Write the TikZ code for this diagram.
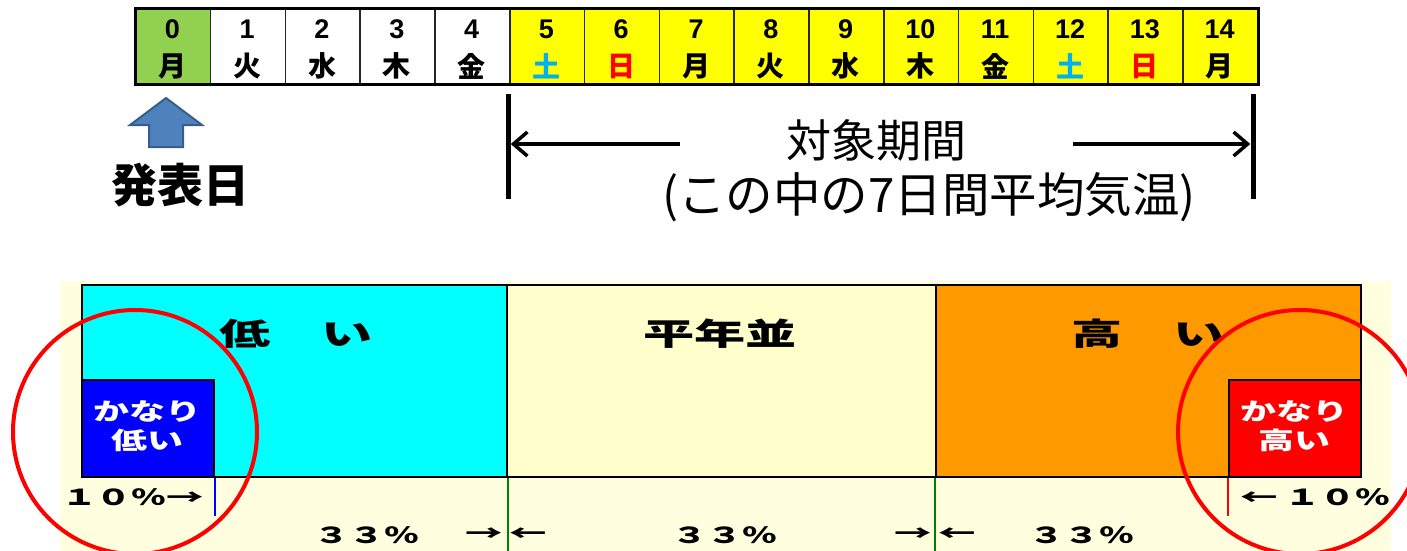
\documentclass[tikz,border=0pt]{standalone}
\usepackage{fontspec}
\setmainfont{Liberation Sans}
\newfontfamily\jp{Noto Sans CJK JP}
\usetikzlibrary{arrows.meta}
\definecolor{calgreen}{HTML}{92D050}
\definecolor{calyellow}{HTML}{FFFF00}
\definecolor{satblue}{HTML}{00B0F0}
\definecolor{sunred}{HTML}{FF0000}
\definecolor{arrowfill}{HTML}{4F81BD}
\definecolor{arrowline}{HTML}{385D8A}
\definecolor{bgyellow}{HTML}{FFFFE0}
\definecolor{midyellow}{HTML}{FFFFCC}
\definecolor{lowcyan}{HTML}{00FFFF}
\definecolor{highorange}{HTML}{FF9900}
\definecolor{vlowblue}{HTML}{0000FF}
\definecolor{vhighred}{HTML}{FF0000}
\definecolor{linegreen}{HTML}{008000}
\definecolor{circred}{HTML}{FF0000}
\begin{document}
\begin{tikzpicture}[x=1pt,y=-1pt,
  cell/.style={draw=black!85, line width=1.5pt, minimum width=74.8pt, minimum height=74pt, inner sep=0pt, anchor=north west},
  numtxt/.style={font=\fontsize{27}{27}\selectfont\bfseries, inner sep=0pt},
  daytxt/.style={font=\jp\fontsize{28}{28}\selectfont\bfseries, inner sep=0pt},
  bar/.style={fill=black, minimum width=5pt, minimum height=105pt, inner sep=0pt},
  spanarrow/.style={line width=3.5pt, -{Straight Barb[length=14pt,width=24pt,line width=3.5pt]}},
  catbox/.style={draw=black, line width=2pt, anchor=north west, inner sep=0pt},
  catlabel/.style={font=\jp\bfseries\fontsize{31}{31}\selectfont, inner sep=0pt},
  extlabel/.style={font=\jp\bfseries\fontsize{24}{29}\selectfont, text=white, inner sep=0pt},
  pct/.style={font=\jp\bfseries\fontsize{22}{22}\selectfont, inner sep=0pt},
  ring/.style={draw=circred, line width=4pt, circle, minimum size=244pt, inner sep=0pt}
]
\useasboundingbox (0,0) rectangle (1407,551);

% ---- calendar ----
\foreach \i/\d/\dc/\f in {0/月/black/calgreen, 1/火/black/white, 2/水/black/white, 3/木/black/white, 4/金/black/white,
  5/土/satblue/calyellow, 6/日/sunred/calyellow, 7/月/black/calyellow, 8/火/black/calyellow, 9/水/black/calyellow,
  10/木/black/calyellow, 11/金/black/calyellow, 12/土/satblue/calyellow, 13/日/sunred/calyellow, 14/月/black/calyellow}{
  \node[cell, fill=\f] (c\i) at ({135+74.8*\i},9) {};
  \node[numtxt] (n\i) at ({172.4+74.8*\i},29) {\i};
  \node[daytxt, text=\dc] (d\i) at ({172.4+74.8*\i},66) {\d};
}
\draw[line width=3pt] (c0.north west) rectangle (c14.south east);

% ---- announcement arrow ----
\draw[fill=arrowfill, draw=arrowline, line width=2pt]
  (166,98) -- (202,125) -- (183,125) -- (183,147) -- (149,147) -- (149,125) -- (130,125) -- cycle;
\node[font=\jp\bfseries\fontsize{46}{46}\selectfont, inner sep=0pt] (announce) at (180,185) {発表日};

% ---- target period ----
\node[bar] (lbar) at (508,146.5) {};
\node[bar] (rbar) at (1253,146.5) {};
\node[font=\jp\fontsize{45}{45}\selectfont, inner sep=0pt] (target) at (876,140) {対象期間};
\node[font=\jp\fontsize{47.5}{47.5}\selectfont, inner sep=0pt] (sub) at (929,197) {(この中の7日間平均気温)};
\coordinate (la) at (680,144);
\coordinate (ra) at (1073,144);
\draw[spanarrow] (la) -- (la -| lbar.east);
\draw[spanarrow] (ra) -- (ra -| rbar.west);

% ---- categories ----
\fill[bgyellow] (60,281) rectangle (1391,551);
\node[catbox, fill=lowcyan, minimum width=425pt, minimum height=192pt] (low) at (81,284) {};
\node[catbox, fill=midyellow, minimum width=429pt, minimum height=192pt] (normal) at (506,284) {};
\node[catbox, fill=highorange, minimum width=425pt, minimum height=192pt] (high) at (935,284) {};
\node[catbox, fill=vlowblue, minimum width=132pt, minimum height=97pt] (vlow) at (81,379) {};
\node[catbox, fill=vhighred, minimum width=132pt, minimum height=97pt] (vhigh) at (1228,379) {};

\node[catlabel] (lowlab) at (296,334) {\scalebox{1.65}[1]{低　い}};
\node[catlabel] (normlab) at (720,334) {\scalebox{1.65}[1]{平年並}};
\node[catlabel] (highlab) at (1148,334) {\scalebox{1.65}[1]{高　い}};
\node[extlabel] (vlowlab) at (147,429) {\scalebox{1.5}[1]{\begin{tabular}{@{}c@{}}かなり\\低い\end{tabular}}};
\node[extlabel] (vhighlab) at (1294,429) {\scalebox{1.5}[1]{\begin{tabular}{@{}c@{}}かなり\\高い\end{tabular}}};

% ---- boundary ticks ----
\draw[vlowblue, line width=2pt] (vlow.south east) -- ++(0,38) coordinate (vlowend);
\draw[vhighred, line width=2pt] (vhigh.south west) -- ++(0,38) coordinate (vhighend);
\draw[linegreen, line width=2pt] (low.south east) -- (low.south east |- 0,551);
\draw[linegreen, line width=2pt] (high.south west) -- (high.south west |- 0,551);

% ---- percentages ----
\node[pct, anchor=west] (p10l) at (62,497) {\scalebox{1.58}[1]{１０％}\scalebox{1.7}[1]{→}};
\node[pct, anchor=east] (p10r) at (1390,497) {\scalebox{1.7}[1]{←}\hspace{8pt}\scalebox{1.58}[1]{１０％}};
\node[pct] (p33l) at (367,535) {\scalebox{1.58}[1]{３３％}};
\node[pct] (p33m) at (725,535) {\scalebox{1.58}[1]{３３％}};
\node[pct] (p33r) at (1082,535) {\scalebox{1.58}[1]{３３％}};
\node[pct, anchor=east] (a1) at (503,535) {\scalebox{1.7}[1]{→}};
\node[pct, anchor=west] (a2) at (509,535) {\scalebox{1.7}[1]{←}};
\node[pct, anchor=east] (a3) at (932,535) {\scalebox{1.7}[1]{→}};
\node[pct, anchor=west] (a4) at (938,535) {\scalebox{1.7}[1]{←}};

% ---- highlight rings ----
\node[ring] (lring) at (135,432) {};
\node[ring] (rring) at (1300,432) {};
\end{tikzpicture}
\end{document}
